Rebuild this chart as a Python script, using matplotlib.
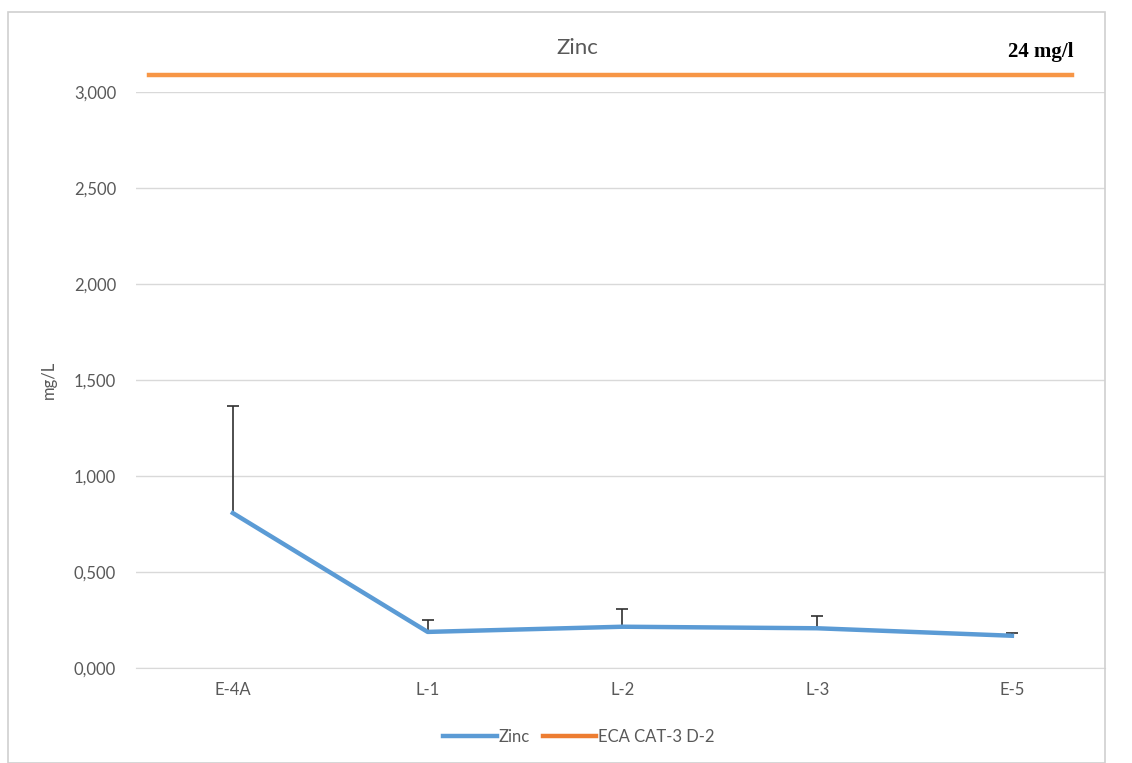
import matplotlib
matplotlib.use("Agg")
import matplotlib.pyplot as plt
from matplotlib.patches import Rectangle
from matplotlib.lines import Line2D
from matplotlib.ticker import FuncFormatter

# data
stations = ['E-4A', 'L-1', 'L-2', 'L-3', 'E-5']
zinc = [0.807, 0.188, 0.215, 0.207, 0.168]
zinc_err = [0.558, 0.063, 0.090, 0.064, 0.012]
eca_level = 3.09   # drawn above the axis, labelled 24 mg/l
eca_label = '24 mg/l'
yticks = [0, 0.5, 1.0, 1.5, 2.0, 2.5, 3.0]

blue = '#5B9BD5'
orange = '#F79646'
orange_dark = '#ED7D31'
grey = '#595959'

plt.rcParams['font.family'] = ['Lato', 'DejaVu Sans']

fig = plt.figure(figsize=(11.32, 7.63), dpi=100)
ax = fig.add_axes([0.1197, 0.1245, 0.8568, 0.7549])

# outer chart border
fig.patches.append(Rectangle((8 / 1132, 0.0), 1097 / 1132, 1 - 12 / 763,
                             transform=fig.transFigure, fill=False,
                             edgecolor='#D0D0D0', linewidth=1.2))

x = list(range(len(stations)))
eb = ax.errorbar(x, zinc, yerr=[[0] * len(zinc), zinc_err], fmt='none',
                 ecolor='#303030', elinewidth=1.2, capsize=4, capthick=1.2, zorder=2)
eb[1][0].set_visible(False)  # only upper caps
ax.plot(x, zinc, color=blue, linewidth=3.2, zorder=3)
ax.plot([-0.43, 4.31], [eca_level, eca_level], color=orange, linewidth=3.2,
        clip_on=False, zorder=3)

ax.set_xlim(-0.5, len(stations) - 0.52)
ax.set_ylim(0, 3.0)
ax.set_yticks(yticks)
ax.yaxis.set_major_formatter(FuncFormatter(lambda v, p: f'{v:.3f}'.replace('.', ',')))
ax.set_xticks(x)
ax.set_xticklabels(stations)
ax.grid(axis='y', color='#D9D9D9', linewidth=1)
ax.set_axisbelow(True)
for s in ax.spines.values():
    s.set_visible(False)
ax.spines['bottom'].set_visible(True)
ax.spines['bottom'].set_color('#D9D9D9')
ax.tick_params(length=0, colors=grey, labelsize=12, pad=10)
ax.tick_params(axis='y', pad=14)

ax.set_ylabel('mg/L', color=grey, fontsize=12, labelpad=12)

fig.text(577 / 1132, 1 - 48 / 763, 'Zinc', ha='center', va='center',
         color=grey, fontsize=16)
fig.text(1073 / 1132, 1 - 52 / 763, eca_label, ha='right', va='center',
         fontsize=15, fontweight='bold', family=['Liberation Serif', 'DejaVu Serif'])

handles = [Line2D([], [], color=blue, linewidth=3.2),
           Line2D([], [], color=orange_dark, linewidth=3.2)]
ax.legend(handles, ['Zinc', 'ECA CAT-3 D-2'], loc='center',
          bbox_to_anchor=(0.457, -0.12), ncol=2, frameon=False,
          fontsize=12, labelcolor=grey, handlelength=3.2, handletextpad=0.1,
          columnspacing=0.8)

fig.savefig('out.png', dpi=100)
